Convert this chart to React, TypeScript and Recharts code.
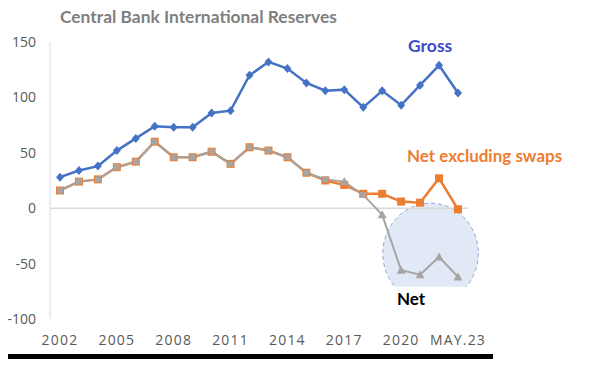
import { LineChart, Line, XAxis, YAxis, ReferenceLine, ReferenceArea } from "recharts";

const years = ["2002", "2003", "2004", "2005", "2006", "2007", "2008", "2009", "2010", "2011", "2012", "2013", "2014", "2015", "2016", "2017", "2018", "2019", "2020", "2021", "2022", "MAY.23"];
const gross = [28, 34, 38, 52, 63, 74, 73, 73, 86, 88, 120, 132, 126, 113, 106, 107, 91, 106, 93, 111, 129, 104];
const netExSwaps = [16, 24, 26, 37, 42, 60, 46, 46, 51, 40, 55, 52, 46, 32, 25, 21, 13, 13, 6, 5, 27, -1];
const net = [16, 24, 26, 37, 42, 60, 46, 46, 51, 40, 55, 52, 46, 32, 26, 24, 12, -6, -56, -60, -44, -62];
const yTicks = [-100, -50, 0, 50, 100, 150];

const data = years.map((year, i) => ({ year, gross: gross[i], netExSwaps: netExSwaps[i], net: net[i] }));

const font = "Lato, 'Open Sans', sans-serif";

// marker shapes
function Diamond(props: any) {
  const { cx, cy, index } = props;
  if (cx == null || cy == null) return <g key={`d${index}`} />;
  return <polygon key={`d${index}`} points={`${cx},${cy - 4.5} ${cx + 4},${cy} ${cx},${cy + 4.5} ${cx - 4},${cy}`} fill="#4472c4" />;
}

function OrangeSquare(props: any) {
  const { cx, cy, index } = props;
  if (cx == null || cy == null) return <g key={`o${index}`} />;
  return <rect key={`o${index}`} x={cx - 4} y={cy - 4} width={8} height={8} fill="#ed7d31" />;
}

function NetMarker(props: any) {
  const { cx, cy, index } = props;
  if (cx == null || cy == null) return <g key={`n${index}`} />;
  const tri = index === 15 || index >= 17;
  if (tri) {
    return <polygon key={`n${index}`} points={`${cx},${cy - 4.5} ${cx + 4.5},${cy + 3.5} ${cx - 4.5},${cy + 3.5}`} fill="#a5a5a5" />;
  }
  return <rect key={`n${index}`} x={cx - 3} y={cy - 3} width={6} height={6} fill="#a5a5a5" />;
}

function Bubble(props: any) {
  const { x, y, width, height } = props;
  const rx = width * 0.84;
  const ry = height * 0.6;
  const cx = x + width / 2 + 1;
  const cy = y + ry;
  return (
    <g>
      <defs>
        <clipPath id="bubbleClip">
          <rect x={cx - rx - 2} y={y - 2} width={rx * 2 + 4} height={height + 2} />
        </clipPath>
      </defs>
      <ellipse cx={cx} cy={cy} rx={rx} ry={ry} fill="#dbe3f4" fillOpacity={0.8} stroke="#8fa8d8" strokeDasharray="4 3" strokeWidth={1} clipPath="url(#bubbleClip)" />
    </g>
  );
}

export default function App() {
  return (
    <div style={{ position: "relative", width: 601, height: 369, margin: -8, background: "#fff", fontFamily: font }}>
      <LineChart width={601} height={369} data={data} margin={{ top: 42, right: 133, bottom: 20, left: 0 }}>
        <XAxis
          dataKey="year"
          interval={2}
          padding={{ left: 10, right: 10 }}
          axisLine={false}
          tickLine={false}
          height={30}
          tickMargin={10}
          tick={{ fill: "#595959", fontSize: 14, fontFamily: "'Open Sans', sans-serif", letterSpacing: 1.2 }}
        />
        <YAxis
          domain={[-100, 150]}
          ticks={yTicks}
          width={50}
          axisLine={{ stroke: "#d9d9d9" }}
          tickLine={false}
          tickMargin={8}
          tick={{ fill: "#595959", fontSize: 14, fontFamily: "'Open Sans', sans-serif" }}
        />
        <ReferenceArea x1="2020" x2="MAY.23" y1={-71} y2={4.5} ifOverflow="visible" shape={Bubble} />
        <ReferenceLine y={0} stroke="#d9d9d9" strokeWidth={1.5} />
        <Line dataKey="netExSwaps" stroke="#ed7d31" strokeWidth={2.5} dot={OrangeSquare} activeDot={false} isAnimationActive={false} />
        <Line dataKey="net" stroke="#a5a5a5" strokeWidth={2} dot={NetMarker} activeDot={false} isAnimationActive={false} />
        <Line dataKey="gross" stroke="#4472c4" strokeWidth={2.5} dot={Diamond} activeDot={false} isAnimationActive={false} />
      </LineChart>
      <div style={{ position: "absolute", left: 60, top: 6, fontSize: 17.4, fontWeight: 700, color: "#7f7f7f", whiteSpace: "nowrap" }}>
        Central Bank International Reserves
      </div>
      <div style={{ position: "absolute", left: 408, top: 35, fontSize: 17.5, fontWeight: 700, color: "#3f48cc" }}>Gross</div>
      <div style={{ position: "absolute", left: 407, top: 145, fontSize: 17, fontWeight: 700, color: "#ed7d31", whiteSpace: "nowrap" }}>
        Net excluding swaps
      </div>
      <div style={{ position: "absolute", left: 397, top: 288, fontSize: 17, fontWeight: 700, color: "#000" }}>Net</div>
      <div style={{ position: "absolute", left: 0, top: 354, width: 493, height: 4.5, background: "#000" }} />
    </div>
  );
}
